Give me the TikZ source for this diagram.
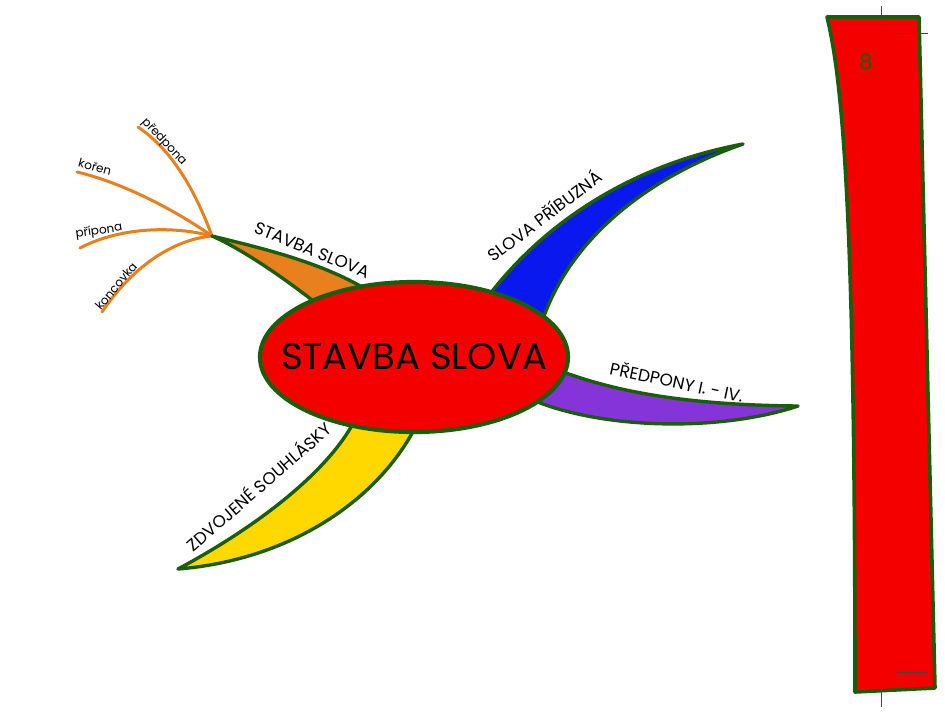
\documentclass[tikz,border=0pt]{standalone}
\usepackage{fontspec}
\setmainfont{Poppins}
\usetikzlibrary{shapes.geometric}
\definecolor{bord}{HTML}{1A5E0C}
\definecolor{mred}{HTML}{F40000}
\definecolor{morange}{HTML}{E8801E}
\definecolor{mblue}{HTML}{0A18F0}
\definecolor{mpurple}{HTML}{8434D8}
\definecolor{myellow}{HTML}{FFD800}
\definecolor{markgray}{HTML}{444444}
\tikzset{
  branch/.style={draw=bord, line width=3.4pt, line join=round},
  twig/.style={draw=morange, line width=3pt, line cap=round},
  twiglabel/.style={font=\fontsize{12}{14}\selectfont, inner sep=0pt},
  blabel/.style={font=\fontsize{17}{20}\selectfont, inner sep=0pt},
  cropmark/.style={draw=markgray, line width=0.8pt}
}
\begin{document}
\begin{tikzpicture}[x=1pt,y=-1pt]
\useasboundingbox[fill=white] (0,0) rectangle (945,716);

% right red strip
\draw[draw=bord, line width=3.6pt, fill=mred, line join=round]
  (827,17) -- (919,17) -- (935,688) -- (855,692)
  .. controls (855,250) and (845,90) .. cycle;
\node[text=bord, font=\fontsize{21}{24}\selectfont, inner sep=0pt] (num) at (866,62) {8};
\draw[cropmark] (881,6) -- (881,18);
\draw[cropmark] (897,33) -- (928,33);
\draw[cropmark] (897,672) -- (928,672);
\draw[cropmark] (881,688) -- (881,707);

% hub of twigs
\coordinate (hub) at (212,236);
\coordinate (tp) at (138,127);
\coordinate (tk) at (77,172);
\coordinate (tr) at (80,248);
\coordinate (tc) at (102,312);
\draw[twig] (hub) .. controls (195,190) and (172,150) .. (tp);
\draw[twig] (hub) .. controls (172,208) and (120,182) .. (tk);
\draw[twig] (hub) .. controls (170,225) and (118,228) .. (tr);
\draw[twig] (hub) .. controls (170,240) and (130,270) .. (tc);

% branches
\draw[branch, fill=morange] (322,308) .. controls (285,278) and (240,248) .. (hub)
  .. controls (270,250) and (330,265) .. (375,295) -- cycle;
\draw[branch, fill=mblue] (484,302) .. controls (540,225) and (630,165) .. (743,144)
  .. controls (640,180) and (565,245) .. (540,328) -- cycle;
\draw[branch, fill=mpurple] (558,370) .. controls (610,390) and (680,405) .. (798,406)
  .. controls (720,432) and (600,430) .. (528,398) -- cycle;
\draw[branch, fill=myellow] (356,418) .. controls (330,470) and (260,525) .. (178,569)
  .. controls (290,560) and (380,500) .. (418,422) -- cycle;

% centre
\node[ellipse, draw=bord, line width=4.2pt, fill=mred, minimum width=308pt,
  minimum height=150pt, inner sep=0pt] (center) at (414,357) {};
\node[font=\fontsize{37}{40}\selectfont, inner sep=0pt] (ctext) at (center.center) {STAVBA SLOVA};

% labels
\node[blabel, rotate=-22] (lstavba) at (312,250) {STAVBA SLOVA};
\node[blabel, rotate=37] (lpribuz) at (544,215) {SLOVA PŘÍBUZNÁ};
\node[blabel, rotate=-12] (lpred) at (677,381) {PŘEDPONY I. - IV.};
\node[blabel, rotate=41] (lzdv) at (258,486) {ZDVOJENÉ SOUHLÁSKY};
\node[twiglabel, rotate=-47] (lp) at (164,142) {předpona};
\node[twiglabel, rotate=-15] (lk) at (95,167) {kořen};
\node[twiglabel, rotate=8] (lr) at (99,231) {přípona};
\node[twiglabel, rotate=50] (lc) at (116,286) {koncovka};
\end{tikzpicture}
\end{document}
